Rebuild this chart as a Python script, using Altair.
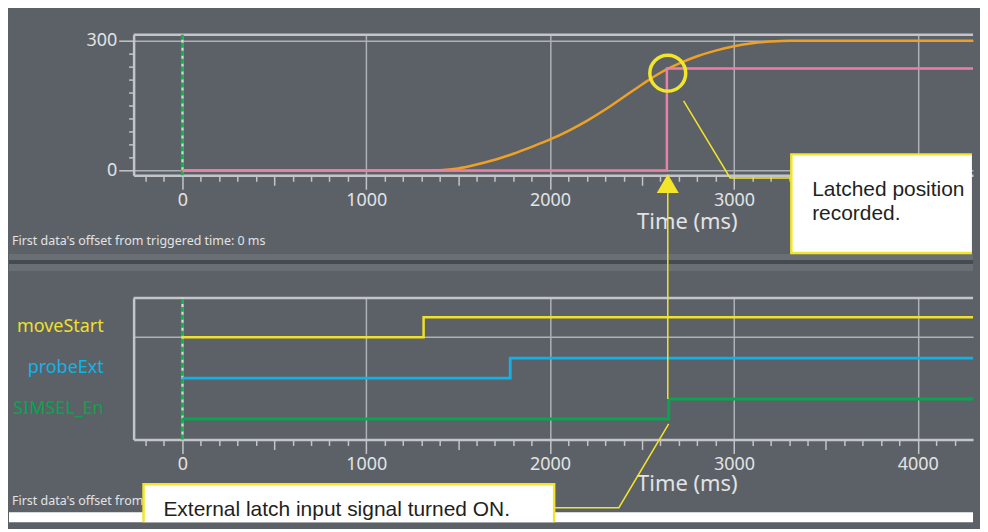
import altair as alt
import pandas as pd

# ---------------- data ----------------
pos_time = [0, 1300, 1400, 1500, 1600, 1700, 1800, 1900, 2000, 2100, 2200, 2300,
            2400, 2500, 2600, 2700, 2800, 2900, 3000, 3100, 3200, 3300, 3400, 4300]
pos_value = [0, 0, 1, 5, 14, 25, 39, 55, 72, 92, 115, 141,
             170, 199, 226, 247, 264, 277, 287, 294, 298, 300, 300, 300]

latch_time = [0, 2635, 4300]
latch_value = [0, 236, 236]

signal_names = ["moveStart", "probeExt", "SIMSEL_En"]
signal_colors = ["#efe02a", "#13b2e6", "#07a54f"]
signal_on_time = [1312, 1783, 2645]
signal_lane = [2.5, 1.5, 0.5]
signal_width = [2.5, 3, 3.5]

x_ticks = list(range(-200, 4300, 100))
y_ticks = list(range(0, 301, 30))

offset_text = "First data's offset from triggered time: 0 ms"
note_top = ["Latched position", "recorded."]
note_bottom = "External latch input signal turned ON."

# ---------------- geometry / style ----------------
W = 842
H_TOP, H_BOT = 141, 142
X_DOM = [-265, 4300]
Y_DOM = [-10.8, 313.8]
L_DOM = [0, 3.463]

BG = "#5c6167"
FRAME = "#c3c5c8"
GRID = "#aeb1b5"
LABEL = "#e2e3e4"
YEL = "#f2e52a"
ORANGE = "#efa125"
PINK = "#e981a6"
DARK = "#231f20"
ZERO_GREEN = "#12b04a"
UI_FONT = "Noto Sans"
NOTE_FONT = "Liberation Sans"


def x_axis(title_y):
    return alt.Axis(
        values=x_ticks, format="d",
        labelExpr="datum.value % 1000 === 0 ? datum.label : ''",
        labelOverlap=False, labelFlush=False,
        labelFont=UI_FONT, labelFontSize=18, labelColor=LABEL, labelPadding=2,
        tickColor=FRAME, tickWidth=1.5,
        tickSize={"condition": [{"test": "datum.value % 1000 === 0", "value": 14},
                                {"test": "datum.value % 500 === 0", "value": 10}],
                  "value": 6},
        grid=True, gridColor=GRID, gridWidth=1.5,
        gridOpacity={"condition": {"test": "datum.value % 1000 === 0", "value": 1}, "value": 0},
        domainColor=FRAME, domainWidth=2.5,
        title="Time (ms)", titleFont=UI_FONT, titleFontSize=22, titleFontWeight="normal",
        titleColor=LABEL, titleX=555, titleY=title_y, titleAlign="center",
        titleBaseline="alphabetic",
    )


y_axis_top = alt.Axis(
    values=y_ticks, format="d",
    labelExpr="datum.value % 300 === 0 ? datum.label : ''",
    labelOverlap=False, labelFlush=False,
    labelFont=UI_FONT, labelFontSize=18, labelColor=LABEL, labelPadding=2,
    tickColor=FRAME, tickWidth=1.5,
    tickSize={"condition": {"test": "datum.value % 300 === 0", "value": 15}, "value": 5},
    grid=True, gridColor=GRID, gridWidth=1.5,
    gridOpacity={"condition": {"test": "datum.value % 300 === 0", "value": 1}, "value": 0},
    domainColor=FRAME, domainWidth=2.5, title=None,
)

y_axis_bot = alt.Axis(values=[2.5], labels=False, ticks=False, grid=True,
                      gridColor=GRID, gridWidth=1.5, domainColor=FRAME,
                      domainWidth=2.5, title=None)

xs_top = alt.Scale(domain=X_DOM, nice=False, zero=False)
xs_bot = alt.Scale(domain=X_DOM, nice=False, zero=False)
ys_top = alt.Scale(domain=Y_DOM, nice=False, zero=False)
ys_bot = alt.Scale(domain=L_DOM, nice=False, zero=False)

XT = lambda f: alt.X(f"{f}:Q", scale=xs_top, axis=x_axis(53))
YT = lambda f: alt.Y(f"{f}:Q", scale=ys_top, axis=y_axis_top)
XB = lambda f: alt.X(f"{f}:Q", scale=xs_bot, axis=x_axis(51))
YB = lambda f: alt.Y(f"{f}:Q", scale=ys_bot, axis=y_axis_bot)

one = pd.DataFrame({"a": [0]})

# ---------------- top panel ----------------
deco_white_b = alt.Chart(one).mark_rect(color="white").encode(
    x=alt.value(-125), x2=alt.value(842), y=alt.value(479), y2=alt.value(489))
band_light = alt.Chart(one).mark_rect(color="#6a6f75").encode(
    x=alt.value(-125), x2=alt.value(842), y=alt.value(220), y2=alt.value(237))
band_dark = alt.Chart(one).mark_rect(color="#474b50").encode(
    x=alt.value(-125), x2=alt.value(842), y=alt.value(226), y2=alt.value(230))
top_edge = alt.Chart(one).mark_rect(color=BG).encode(
    x=alt.value(-125), x2=alt.value(-120), y=alt.value(-25), y2=alt.value(-20))
offset_top = alt.Chart(pd.DataFrame({"s": [offset_text]})).mark_text(
    align="left", baseline="middle", font=UI_FONT, fontSize=12.5, color=LABEL
).encode(x=alt.value(-122), y=alt.value(207), text="s:N")

frame_top = alt.Chart(pd.DataFrame({"t": [X_DOM[0]], "t2": [X_DOM[1]], "v": [Y_DOM[1]]})).mark_rule(
    color=FRAME, strokeWidth=2.5).encode(x=XT("t"), x2="t2:Q", y=YT("v"))
zero_df_top = pd.DataFrame({"t": [0], "v": [Y_DOM[0]], "v2": [Y_DOM[1]]})
zero_top_under = alt.Chart(zero_df_top).mark_rule(
    color="#d8dadc", strokeWidth=2).encode(x=XT("t"), y=YT("v"), y2="v2:Q")
zero_top = alt.Chart(zero_df_top).mark_rule(
    color=ZERO_GREEN, strokeWidth=3, strokeDash=[5, 3]).encode(x=XT("t"), y=YT("v"), y2="v2:Q")

pos_line = alt.Chart(pd.DataFrame({"t": pos_time, "v": pos_value})).mark_line(
    color=ORANGE, strokeWidth=2.5, interpolate="monotone").encode(x=XT("t"), y=YT("v"))
latch_line = alt.Chart(pd.DataFrame({"t": latch_time, "v": latch_value})).mark_line(
    color=PINK, strokeWidth=2.5, interpolate="step-after").encode(x=XT("t"), y=YT("v"))

circle = alt.Chart(pd.DataFrame({"t": [2640], "v": [225]})).mark_point(
    shape="circle", filled=False, size=1296, strokeWidth=3.5, color=YEL, opacity=1
).encode(x=XT("t"), y=YT("v"))
tri = alt.Chart(pd.DataFrame({"t": [2640], "v": [-29.8]})).mark_point(
    shape="triangle-up", filled=True, size=484, color=YEL, opacity=1
).encode(x=XT("t"), y=YT("v"))
ptr1 = alt.Chart(pd.DataFrame({"t": [2726, 2979, 3312], "v": [161, -17, -17], "o": [0, 1, 2]})).mark_line(
    color=YEL, strokeWidth=1.5).encode(x=XT("t"), y=YT("v"), order="o:Q")
box1 = alt.Chart(pd.DataFrame({"t": [3312], "t2": [4294], "v": [37.5], "v2": [-190.4]})).mark_rect(
    color="white").encode(x=XT("t"), x2="t2:Q", y=YT("v"), y2="v2:Q")
box1_border = alt.Chart(pd.DataFrame({"t": [4294, 3312, 3312, 4294], "v": [37.5, 37.5, -190.4, -190.4],
                                      "o": [0, 1, 2, 3]})).mark_line(
    color=YEL, strokeWidth=2.5).encode(x=XT("t"), y=YT("v"), order="o:Q")
note1 = alt.Chart(pd.DataFrame({"t": [3425, 3425], "v": [-59.5, -114.7], "s": note_top})).mark_text(
    align="left", baseline="alphabetic", font=NOTE_FONT, fontSize=21, color=DARK
).encode(x=XT("t"), y=YT("v"), text="s:N")

top = alt.layer(top_edge, deco_white_b, band_light, band_dark, offset_top,
                frame_top, zero_top_under, zero_top, pos_line, latch_line, circle, tri, ptr1,
                box1, box1_border, note1).properties(width=W, height=H_TOP)

# ---------------- bottom panel ----------------
rows = []
for name, on, lane in zip(signal_names, signal_on_time, signal_lane):
    for t, lvl in [(0, 0), (on, 1), (X_DOM[1], 1)]:
        rows.append({"name": name, "t": t, "u": lane + 0.49 * lvl})
sig_df = pd.DataFrame(rows)
color_scale = alt.Scale(domain=signal_names, range=signal_colors)

frame_bot = alt.Chart(pd.DataFrame({"t": [X_DOM[0]], "t2": [X_DOM[1]], "u": [L_DOM[1]]})).mark_rule(
    color=FRAME, strokeWidth=2.5).encode(x=XB("t"), x2="t2:Q", y=YB("u"))
zero_df_bot = pd.DataFrame({"t": [0], "u": [L_DOM[0]], "u2": [L_DOM[1]]})
zero_bot_under = alt.Chart(zero_df_bot).mark_rule(
    color="#d8dadc", strokeWidth=2).encode(x=XB("t"), y=YB("u"), y2="u2:Q")
zero_bot = alt.Chart(zero_df_bot).mark_rule(
    color=ZERO_GREEN, strokeWidth=3, strokeDash=[5, 3]).encode(x=XB("t"), y=YB("u"), y2="u2:Q")
sig_lines = alt.Chart(sig_df).mark_line(interpolate="step-after").encode(
    x=XB("t"), y=YB("u"),
    color=alt.Color("name:N", scale=color_scale, legend=None),
    strokeWidth=alt.StrokeWidth("name:N", scale=alt.Scale(domain=signal_names, range=signal_width),
                                legend=None))
sig_labels = alt.Chart(pd.DataFrame({"name": signal_names,
                                     "u": [l + 0.25 for l in signal_lane]})).mark_text(
    align="right", baseline="middle", font=UI_FONT, fontSize=18
).encode(x=alt.value(-30), y=YB("u"), text="name:N",
         color=alt.Color("name:N", scale=color_scale, legend=None))
offset_bot = alt.Chart(pd.DataFrame({"s": [offset_text]})).mark_text(
    align="left", baseline="middle", font=UI_FONT, fontSize=12.5, color=LABEL
).encode(x=alt.value(-122), y=alt.value(204), text="s:N")

arrow_line = alt.Chart(pd.DataFrame({"t": [2640], "u": [0.99], "u2": [6.05]})).mark_rule(
    color=YEL, strokeWidth=1.5).encode(x=XB("t"), y=YB("u"), y2="u2:Q")
ptr2 = alt.Chart(pd.DataFrame({"t": [2022, 2374, 2645], "u": [-1.67, -1.67, 0.38], "o": [0, 1, 2]})).mark_line(
    color=YEL, strokeWidth=1.5).encode(x=XB("t"), y=YB("u"), order="o:Q")
box2 = alt.Chart(pd.DataFrame({"t": [-211], "t2": [2022], "u": [-1.098], "u2": [-2.024]})).mark_rect(
    color="white").encode(x=XB("t"), x2="t2:Q", y=YB("u"), y2="u2:Q")
box2_border = alt.Chart(pd.DataFrame({"t": [-211, -211, 2022, 2022], "u": [-2.024, -1.098, -1.098, -2.024],
                                      "o": [0, 1, 2, 3]})).mark_line(
    color=YEL, strokeWidth=2.5).encode(x=XB("t"), y=YB("u"), order="o:Q")
note2 = alt.Chart(pd.DataFrame({"t": [-103], "u": [-1.73], "s": [note_bottom]})).mark_text(
    align="left", baseline="middle", font=NOTE_FONT, fontSize=21, color=DARK
).encode(x=XB("t"), y=YB("u"), text="s:N")

bottom = alt.layer(frame_bot, zero_bot_under, zero_bot, sig_lines, sig_labels, offset_bot,
                   arrow_line, ptr2, box2, box2_border, note2).properties(width=W, height=H_BOT)

chart = alt.vconcat(top, bottom, spacing=123, bounds="flush").properties(
    padding=0, background=BG
).configure_view(stroke="transparent")

chart.save("out.html", embed_options={"renderer": "svg", "actions": False})
